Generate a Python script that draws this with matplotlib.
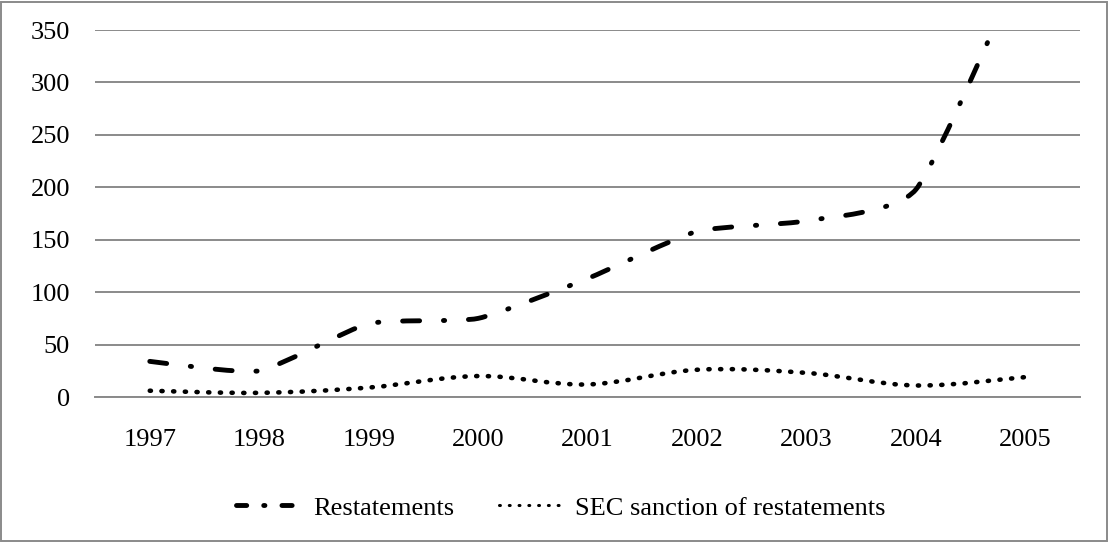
import matplotlib.pyplot as plt
from matplotlib.path import Path
from matplotlib.patches import PathPatch, Rectangle
from matplotlib.lines import Line2D

plt.rcParams['font.family'] = ['Liberation Serif', 'DejaVu Serif']

years = [1997, 1998, 1999, 2000, 2001, 2002, 2003, 2004, 2005]
restatements = [34, 25, 70, 75, 113, 158, 168, 198, 420]
sec_sanctions = [6, 4, 9, 20, 12, 26, 23, 11, 19]

y_ticks = [0, 50, 100, 150, 200, 250, 300, 350]
grid_color = '#8a8a8a'


def smooth_path(xs, ys, k=0.09):
    # smoothed line like Excel's: cubic bezier segments through the points
    pts = list(zip(xs, ys))
    verts = [pts[0]]
    codes = [Path.MOVETO]
    for i in range(len(pts) - 1):
        p0 = pts[i - 1] if i > 0 else pts[i]
        p1 = pts[i]
        p2 = pts[i + 1]
        p3 = pts[i + 2] if i + 2 < len(pts) else pts[i + 1]
        c1 = (p1[0] + (p2[0] - p0[0]) * k, p1[1] + (p2[1] - p0[1]) * k)
        c2 = (p2[0] - (p3[0] - p1[0]) * k, p2[1] - (p3[1] - p1[1]) * k)
        verts += [c1, c2, p2]
        codes += [Path.CURVE4] * 3
    return Path(verts, codes)


fig = plt.figure(figsize=(11.09, 5.42), dpi=100)
ax = fig.add_axes([0.0857, 0.2675, 0.8883, 0.6771])

idx = list(range(len(years)))
dash_style = (0, (3.5, 4.9, 0.25, 4.9))
dot_style = (0, (0.25, 2.3))

ax.add_patch(PathPatch(smooth_path(idx, restatements), fill=False, edgecolor='black',
                       linewidth=3.5, linestyle=dash_style, capstyle='round', zorder=3))
ax.add_patch(PathPatch(smooth_path(idx, sec_sanctions, k=1 / 6), fill=False, edgecolor='black',
                       linewidth=3.3, linestyle=dot_style, capstyle='round', zorder=3))

ax.set_xlim(-0.5, len(years) - 0.5)
ax.set_ylim(0, 350)
ax.set_yticks(y_ticks)
ax.set_xticks(idx)
ax.set_xticklabels([str(y) for y in years])
ax.yaxis.grid(True, color=grid_color, linewidth=1.4)
ax.set_axisbelow(True)
for s in ['top', 'right', 'left']:
    ax.spines[s].set_visible(False)
ax.spines['bottom'].set_color(grid_color)
ax.spines['bottom'].set_linewidth(1.4)
ax.tick_params(axis='both', length=0, labelsize=19)
ax.tick_params(axis='y', pad=18)
ax.tick_params(axis='x', pad=23)

handles = [
    Line2D([], [], color='black', linewidth=3.5, linestyle=(0, (2.1, 3.5, 0.25, 3.5)),
           dash_capstyle='round'),
    Line2D([], [], color='black', linewidth=2.2, linestyle=(0, (0.3, 2.9)),
           dash_capstyle='round'),
]
fig.legend(handles, ['Restatements', 'SEC sanction of restatements'],
           loc='center', bbox_to_anchor=(0.506, 0.063), ncol=2, frameon=False,
           fontsize=19, handlelength=2.3, handletextpad=0.6, columnspacing=1.7)

fig.add_artist(Rectangle((0.001, 0.002), 0.997, 0.995, transform=fig.transFigure,
                         fill=False, edgecolor=grid_color, linewidth=1.4))

fig.savefig('out.png', dpi=100)
